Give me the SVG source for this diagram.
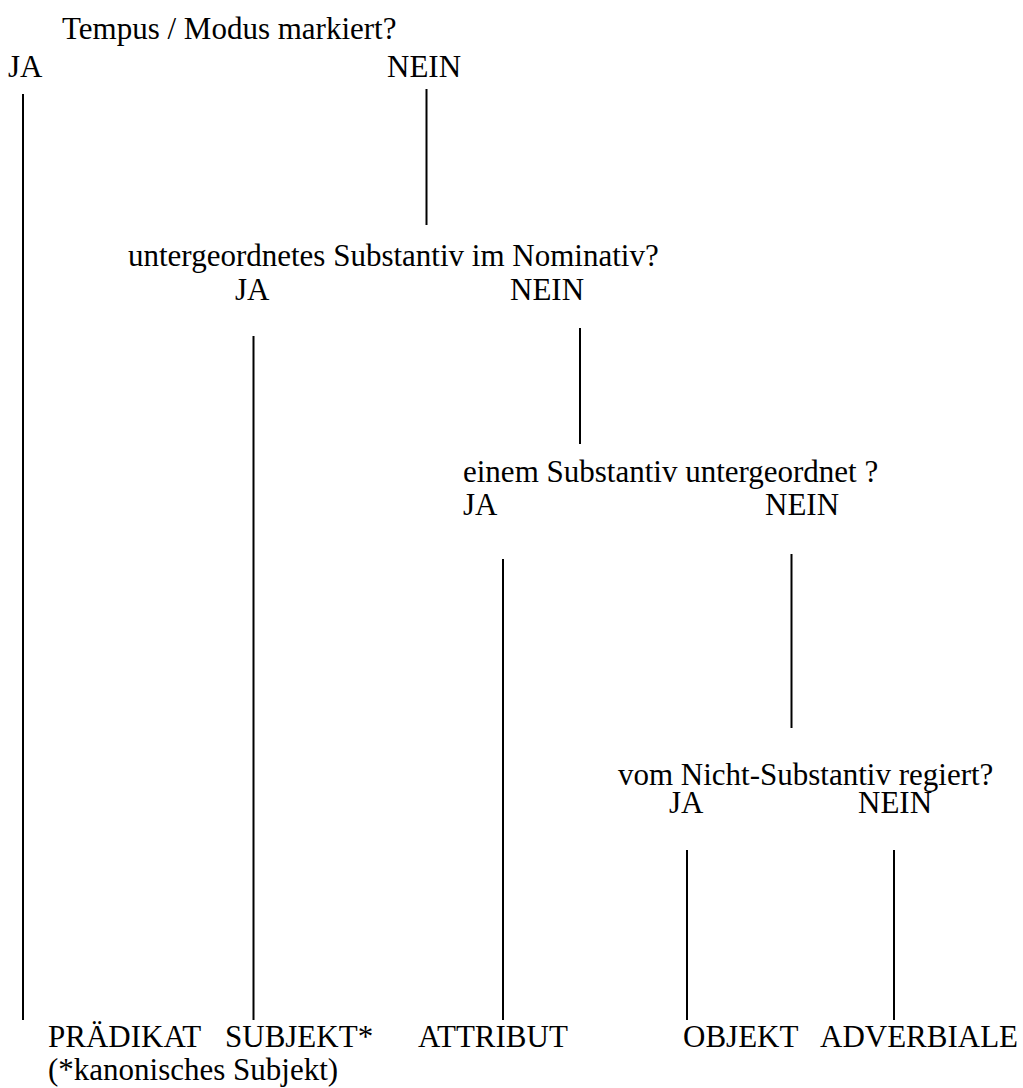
<svg xmlns="http://www.w3.org/2000/svg" width="1023" height="1088" viewBox="0 0 1023 1088">
<style>
text { font-family: "Liberation Serif", "Times New Roman", serif; font-size: 31px; fill: #000; }
.ln { stroke: #000; stroke-width: 2; fill: none; }
</style>
<rect width="1023" height="1088" fill="#fff"/>
<g id="q1">
<text x="62" y="39">Tempus / Modus markiert?</text>
<text x="8" y="77">JA</text>
<text x="387" y="77">NEIN</text>
</g>
<g id="q2">
<text x="128" y="266">untergeordnetes Substantiv im Nominativ?</text>
<text x="235" y="300">JA</text>
<text x="510" y="300">NEIN</text>
</g>
<g id="q3">
<text x="463" y="482">einem Substantiv untergeordnet ?</text>
<text x="463" y="515">JA</text>
<text x="765" y="515">NEIN</text>
</g>
<g id="q4">
<text x="618" y="785">vom Nicht-Substantiv regiert?</text>
<text x="669" y="813">JA</text>
<text x="858" y="813">NEIN</text>
</g>
<g id="praedikat"><text x="48" y="1047">PRÄDIKAT</text></g>
<g id="subjekt"><text x="225" y="1047">SUBJEKT*</text></g>
<g id="attribut"><text x="418" y="1047">ATTRIBUT</text></g>
<g id="objekt"><text x="683" y="1047">OBJEKT</text></g>
<g id="adverbiale"><text x="820" y="1047">ADVERBIALE</text></g>
<g id="note"><text x="48" y="1080">(*kanonisches Subjekt)</text></g>
<g id="connectors">
<line class="ln" x1="23" y1="94" x2="23" y2="1020"/>
<line class="ln" x1="426.5" y1="89" x2="426.5" y2="225"/>
<line class="ln" x1="253.5" y1="336" x2="253.5" y2="1020"/>
<line class="ln" x1="580" y1="328" x2="580" y2="444"/>
<line class="ln" x1="503" y1="559" x2="503" y2="1020"/>
<line class="ln" x1="791.5" y1="554" x2="791.5" y2="728"/>
<line class="ln" x1="687" y1="850" x2="687" y2="1020"/>
<line class="ln" x1="894" y1="850" x2="894" y2="1020"/>
</g>
</svg>
